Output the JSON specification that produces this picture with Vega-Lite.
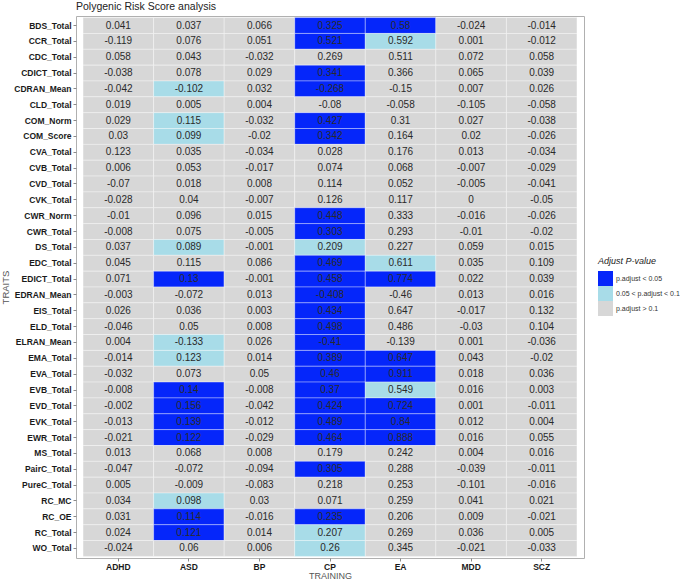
{
  "$schema": "https://vega.github.io/schema/vega-lite/v6.json",
  "width": 508,
  "height": 542,
  "padding": {"left": 0, "top": 1, "right": 0, "bottom": 0},
  "title": {"text": "Polygenic Risk Score analysis", "anchor": "start", "frame": "group", "fontSize": 10.5, "fontWeight": "normal", "font": "Liberation Sans", "color": "#222222", "offset": 4},
  "config": {"view": {"stroke": "#B0B0B0", "fill": "white", "strokeWidth": 1}, "font": "Liberation Sans"},
  "datasets": {
    "prs": [
      {"t":"BDS_Total","p":"ADHD","v":0.041,"s":"3"},{"t":"BDS_Total","p":"ASD","v":0.037,"s":"3"},{"t":"BDS_Total","p":"BP","v":0.066,"s":"3"},{"t":"BDS_Total","p":"CP","v":0.325,"s":"1"},{"t":"BDS_Total","p":"EA","v":0.58,"s":"1"},{"t":"BDS_Total","p":"MDD","v":-0.024,"s":"3"},{"t":"BDS_Total","p":"SCZ","v":-0.014,"s":"3"},
      {"t":"CCR_Total","p":"ADHD","v":-0.119,"s":"3"},{"t":"CCR_Total","p":"ASD","v":0.076,"s":"3"},{"t":"CCR_Total","p":"BP","v":0.051,"s":"3"},{"t":"CCR_Total","p":"CP","v":0.521,"s":"1"},{"t":"CCR_Total","p":"EA","v":0.592,"s":"2"},{"t":"CCR_Total","p":"MDD","v":0.001,"s":"3"},{"t":"CCR_Total","p":"SCZ","v":-0.012,"s":"3"},
      {"t":"CDC_Total","p":"ADHD","v":0.058,"s":"3"},{"t":"CDC_Total","p":"ASD","v":0.043,"s":"3"},{"t":"CDC_Total","p":"BP","v":-0.032,"s":"3"},{"t":"CDC_Total","p":"CP","v":0.269,"s":"3"},{"t":"CDC_Total","p":"EA","v":0.511,"s":"3"},{"t":"CDC_Total","p":"MDD","v":0.072,"s":"3"},{"t":"CDC_Total","p":"SCZ","v":0.058,"s":"3"},
      {"t":"CDICT_Total","p":"ADHD","v":-0.038,"s":"3"},{"t":"CDICT_Total","p":"ASD","v":0.078,"s":"3"},{"t":"CDICT_Total","p":"BP","v":0.029,"s":"3"},{"t":"CDICT_Total","p":"CP","v":0.341,"s":"1"},{"t":"CDICT_Total","p":"EA","v":0.366,"s":"3"},{"t":"CDICT_Total","p":"MDD","v":0.065,"s":"3"},{"t":"CDICT_Total","p":"SCZ","v":0.039,"s":"3"},
      {"t":"CDRAN_Mean","p":"ADHD","v":-0.042,"s":"3"},{"t":"CDRAN_Mean","p":"ASD","v":-0.102,"s":"2"},{"t":"CDRAN_Mean","p":"BP","v":0.032,"s":"3"},{"t":"CDRAN_Mean","p":"CP","v":-0.268,"s":"1"},{"t":"CDRAN_Mean","p":"EA","v":-0.15,"s":"3"},{"t":"CDRAN_Mean","p":"MDD","v":0.007,"s":"3"},{"t":"CDRAN_Mean","p":"SCZ","v":0.026,"s":"3"},
      {"t":"CLD_Total","p":"ADHD","v":0.019,"s":"3"},{"t":"CLD_Total","p":"ASD","v":0.005,"s":"3"},{"t":"CLD_Total","p":"BP","v":0.004,"s":"3"},{"t":"CLD_Total","p":"CP","v":-0.08,"s":"3"},{"t":"CLD_Total","p":"EA","v":-0.058,"s":"3"},{"t":"CLD_Total","p":"MDD","v":-0.105,"s":"3"},{"t":"CLD_Total","p":"SCZ","v":-0.058,"s":"3"},
      {"t":"COM_Norm","p":"ADHD","v":0.029,"s":"3"},{"t":"COM_Norm","p":"ASD","v":0.115,"s":"2"},{"t":"COM_Norm","p":"BP","v":-0.032,"s":"3"},{"t":"COM_Norm","p":"CP","v":0.427,"s":"1"},{"t":"COM_Norm","p":"EA","v":0.31,"s":"3"},{"t":"COM_Norm","p":"MDD","v":0.027,"s":"3"},{"t":"COM_Norm","p":"SCZ","v":-0.038,"s":"3"},
      {"t":"COM_Score","p":"ADHD","v":0.03,"s":"3"},{"t":"COM_Score","p":"ASD","v":0.099,"s":"2"},{"t":"COM_Score","p":"BP","v":-0.02,"s":"3"},{"t":"COM_Score","p":"CP","v":0.342,"s":"1"},{"t":"COM_Score","p":"EA","v":0.164,"s":"3"},{"t":"COM_Score","p":"MDD","v":0.02,"s":"3"},{"t":"COM_Score","p":"SCZ","v":-0.026,"s":"3"},
      {"t":"CVA_Total","p":"ADHD","v":0.123,"s":"3"},{"t":"CVA_Total","p":"ASD","v":0.035,"s":"3"},{"t":"CVA_Total","p":"BP","v":-0.034,"s":"3"},{"t":"CVA_Total","p":"CP","v":0.028,"s":"3"},{"t":"CVA_Total","p":"EA","v":0.176,"s":"3"},{"t":"CVA_Total","p":"MDD","v":0.013,"s":"3"},{"t":"CVA_Total","p":"SCZ","v":-0.034,"s":"3"},
      {"t":"CVB_Total","p":"ADHD","v":0.006,"s":"3"},{"t":"CVB_Total","p":"ASD","v":0.053,"s":"3"},{"t":"CVB_Total","p":"BP","v":-0.017,"s":"3"},{"t":"CVB_Total","p":"CP","v":0.074,"s":"3"},{"t":"CVB_Total","p":"EA","v":0.068,"s":"3"},{"t":"CVB_Total","p":"MDD","v":-0.007,"s":"3"},{"t":"CVB_Total","p":"SCZ","v":-0.029,"s":"3"},
      {"t":"CVD_Total","p":"ADHD","v":-0.07,"s":"3"},{"t":"CVD_Total","p":"ASD","v":0.018,"s":"3"},{"t":"CVD_Total","p":"BP","v":0.008,"s":"3"},{"t":"CVD_Total","p":"CP","v":0.114,"s":"3"},{"t":"CVD_Total","p":"EA","v":0.052,"s":"3"},{"t":"CVD_Total","p":"MDD","v":-0.005,"s":"3"},{"t":"CVD_Total","p":"SCZ","v":-0.041,"s":"3"},
      {"t":"CVK_Total","p":"ADHD","v":-0.028,"s":"3"},{"t":"CVK_Total","p":"ASD","v":0.04,"s":"3"},{"t":"CVK_Total","p":"BP","v":-0.007,"s":"3"},{"t":"CVK_Total","p":"CP","v":0.126,"s":"3"},{"t":"CVK_Total","p":"EA","v":0.117,"s":"3"},{"t":"CVK_Total","p":"MDD","v":0,"s":"3"},{"t":"CVK_Total","p":"SCZ","v":-0.05,"s":"3"},
      {"t":"CWR_Norm","p":"ADHD","v":-0.01,"s":"3"},{"t":"CWR_Norm","p":"ASD","v":0.096,"s":"3"},{"t":"CWR_Norm","p":"BP","v":0.015,"s":"3"},{"t":"CWR_Norm","p":"CP","v":0.448,"s":"1"},{"t":"CWR_Norm","p":"EA","v":0.333,"s":"3"},{"t":"CWR_Norm","p":"MDD","v":-0.016,"s":"3"},{"t":"CWR_Norm","p":"SCZ","v":-0.026,"s":"3"},
      {"t":"CWR_Total","p":"ADHD","v":-0.008,"s":"3"},{"t":"CWR_Total","p":"ASD","v":0.075,"s":"3"},{"t":"CWR_Total","p":"BP","v":-0.005,"s":"3"},{"t":"CWR_Total","p":"CP","v":0.303,"s":"1"},{"t":"CWR_Total","p":"EA","v":0.293,"s":"3"},{"t":"CWR_Total","p":"MDD","v":-0.01,"s":"3"},{"t":"CWR_Total","p":"SCZ","v":-0.02,"s":"3"},
      {"t":"DS_Total","p":"ADHD","v":0.037,"s":"3"},{"t":"DS_Total","p":"ASD","v":0.089,"s":"2"},{"t":"DS_Total","p":"BP","v":-0.001,"s":"3"},{"t":"DS_Total","p":"CP","v":0.209,"s":"2"},{"t":"DS_Total","p":"EA","v":0.227,"s":"3"},{"t":"DS_Total","p":"MDD","v":0.059,"s":"3"},{"t":"DS_Total","p":"SCZ","v":0.015,"s":"3"},
      {"t":"EDC_Total","p":"ADHD","v":0.045,"s":"3"},{"t":"EDC_Total","p":"ASD","v":0.115,"s":"3"},{"t":"EDC_Total","p":"BP","v":0.086,"s":"3"},{"t":"EDC_Total","p":"CP","v":0.469,"s":"1"},{"t":"EDC_Total","p":"EA","v":0.611,"s":"2"},{"t":"EDC_Total","p":"MDD","v":0.035,"s":"3"},{"t":"EDC_Total","p":"SCZ","v":0.109,"s":"3"},
      {"t":"EDICT_Total","p":"ADHD","v":0.071,"s":"3"},{"t":"EDICT_Total","p":"ASD","v":0.13,"s":"1"},{"t":"EDICT_Total","p":"BP","v":-0.001,"s":"3"},{"t":"EDICT_Total","p":"CP","v":0.458,"s":"1"},{"t":"EDICT_Total","p":"EA","v":0.774,"s":"1"},{"t":"EDICT_Total","p":"MDD","v":0.022,"s":"3"},{"t":"EDICT_Total","p":"SCZ","v":0.039,"s":"3"},
      {"t":"EDRAN_Mean","p":"ADHD","v":-0.003,"s":"3"},{"t":"EDRAN_Mean","p":"ASD","v":-0.072,"s":"3"},{"t":"EDRAN_Mean","p":"BP","v":0.013,"s":"3"},{"t":"EDRAN_Mean","p":"CP","v":-0.408,"s":"1"},{"t":"EDRAN_Mean","p":"EA","v":-0.46,"s":"3"},{"t":"EDRAN_Mean","p":"MDD","v":0.013,"s":"3"},{"t":"EDRAN_Mean","p":"SCZ","v":0.016,"s":"3"},
      {"t":"EIS_Total","p":"ADHD","v":0.026,"s":"3"},{"t":"EIS_Total","p":"ASD","v":0.036,"s":"3"},{"t":"EIS_Total","p":"BP","v":0.003,"s":"3"},{"t":"EIS_Total","p":"CP","v":0.434,"s":"1"},{"t":"EIS_Total","p":"EA","v":0.647,"s":"3"},{"t":"EIS_Total","p":"MDD","v":-0.017,"s":"3"},{"t":"EIS_Total","p":"SCZ","v":0.132,"s":"3"},
      {"t":"ELD_Total","p":"ADHD","v":-0.046,"s":"3"},{"t":"ELD_Total","p":"ASD","v":0.05,"s":"3"},{"t":"ELD_Total","p":"BP","v":0.008,"s":"3"},{"t":"ELD_Total","p":"CP","v":0.498,"s":"1"},{"t":"ELD_Total","p":"EA","v":0.486,"s":"3"},{"t":"ELD_Total","p":"MDD","v":-0.03,"s":"3"},{"t":"ELD_Total","p":"SCZ","v":0.104,"s":"3"},
      {"t":"ELRAN_Mean","p":"ADHD","v":0.004,"s":"3"},{"t":"ELRAN_Mean","p":"ASD","v":-0.133,"s":"2"},{"t":"ELRAN_Mean","p":"BP","v":0.026,"s":"3"},{"t":"ELRAN_Mean","p":"CP","v":-0.41,"s":"1"},{"t":"ELRAN_Mean","p":"EA","v":-0.139,"s":"3"},{"t":"ELRAN_Mean","p":"MDD","v":0.001,"s":"3"},{"t":"ELRAN_Mean","p":"SCZ","v":-0.036,"s":"3"},
      {"t":"EMA_Total","p":"ADHD","v":-0.014,"s":"3"},{"t":"EMA_Total","p":"ASD","v":0.123,"s":"2"},{"t":"EMA_Total","p":"BP","v":0.014,"s":"3"},{"t":"EMA_Total","p":"CP","v":0.389,"s":"1"},{"t":"EMA_Total","p":"EA","v":0.647,"s":"1"},{"t":"EMA_Total","p":"MDD","v":0.043,"s":"3"},{"t":"EMA_Total","p":"SCZ","v":-0.02,"s":"3"},
      {"t":"EVA_Total","p":"ADHD","v":-0.032,"s":"3"},{"t":"EVA_Total","p":"ASD","v":0.073,"s":"3"},{"t":"EVA_Total","p":"BP","v":0.05,"s":"3"},{"t":"EVA_Total","p":"CP","v":0.46,"s":"1"},{"t":"EVA_Total","p":"EA","v":0.911,"s":"1"},{"t":"EVA_Total","p":"MDD","v":0.018,"s":"3"},{"t":"EVA_Total","p":"SCZ","v":0.036,"s":"3"},
      {"t":"EVB_Total","p":"ADHD","v":-0.008,"s":"3"},{"t":"EVB_Total","p":"ASD","v":0.14,"s":"1"},{"t":"EVB_Total","p":"BP","v":-0.008,"s":"3"},{"t":"EVB_Total","p":"CP","v":0.37,"s":"1"},{"t":"EVB_Total","p":"EA","v":0.549,"s":"2"},{"t":"EVB_Total","p":"MDD","v":0.016,"s":"3"},{"t":"EVB_Total","p":"SCZ","v":0.003,"s":"3"},
      {"t":"EVD_Total","p":"ADHD","v":-0.002,"s":"3"},{"t":"EVD_Total","p":"ASD","v":0.156,"s":"1"},{"t":"EVD_Total","p":"BP","v":-0.042,"s":"3"},{"t":"EVD_Total","p":"CP","v":0.424,"s":"1"},{"t":"EVD_Total","p":"EA","v":0.724,"s":"1"},{"t":"EVD_Total","p":"MDD","v":0.001,"s":"3"},{"t":"EVD_Total","p":"SCZ","v":-0.011,"s":"3"},
      {"t":"EVK_Total","p":"ADHD","v":-0.013,"s":"3"},{"t":"EVK_Total","p":"ASD","v":0.139,"s":"1"},{"t":"EVK_Total","p":"BP","v":-0.012,"s":"3"},{"t":"EVK_Total","p":"CP","v":0.489,"s":"1"},{"t":"EVK_Total","p":"EA","v":0.84,"s":"1"},{"t":"EVK_Total","p":"MDD","v":0.012,"s":"3"},{"t":"EVK_Total","p":"SCZ","v":0.004,"s":"3"},
      {"t":"EWR_Total","p":"ADHD","v":-0.021,"s":"3"},{"t":"EWR_Total","p":"ASD","v":0.122,"s":"1"},{"t":"EWR_Total","p":"BP","v":-0.029,"s":"3"},{"t":"EWR_Total","p":"CP","v":0.464,"s":"1"},{"t":"EWR_Total","p":"EA","v":0.888,"s":"1"},{"t":"EWR_Total","p":"MDD","v":0.016,"s":"3"},{"t":"EWR_Total","p":"SCZ","v":0.055,"s":"3"},
      {"t":"MS_Total","p":"ADHD","v":0.013,"s":"3"},{"t":"MS_Total","p":"ASD","v":0.068,"s":"3"},{"t":"MS_Total","p":"BP","v":0.008,"s":"3"},{"t":"MS_Total","p":"CP","v":0.179,"s":"3"},{"t":"MS_Total","p":"EA","v":0.242,"s":"3"},{"t":"MS_Total","p":"MDD","v":0.004,"s":"3"},{"t":"MS_Total","p":"SCZ","v":0.016,"s":"3"},
      {"t":"PairC_Total","p":"ADHD","v":-0.047,"s":"3"},{"t":"PairC_Total","p":"ASD","v":-0.072,"s":"3"},{"t":"PairC_Total","p":"BP","v":-0.094,"s":"3"},{"t":"PairC_Total","p":"CP","v":0.305,"s":"1"},{"t":"PairC_Total","p":"EA","v":0.288,"s":"3"},{"t":"PairC_Total","p":"MDD","v":-0.039,"s":"3"},{"t":"PairC_Total","p":"SCZ","v":-0.011,"s":"3"},
      {"t":"PureC_Total","p":"ADHD","v":0.005,"s":"3"},{"t":"PureC_Total","p":"ASD","v":-0.009,"s":"3"},{"t":"PureC_Total","p":"BP","v":-0.083,"s":"3"},{"t":"PureC_Total","p":"CP","v":0.218,"s":"3"},{"t":"PureC_Total","p":"EA","v":0.253,"s":"3"},{"t":"PureC_Total","p":"MDD","v":-0.101,"s":"3"},{"t":"PureC_Total","p":"SCZ","v":-0.016,"s":"3"},
      {"t":"RC_MC","p":"ADHD","v":0.034,"s":"3"},{"t":"RC_MC","p":"ASD","v":0.098,"s":"2"},{"t":"RC_MC","p":"BP","v":0.03,"s":"3"},{"t":"RC_MC","p":"CP","v":0.071,"s":"3"},{"t":"RC_MC","p":"EA","v":0.259,"s":"3"},{"t":"RC_MC","p":"MDD","v":0.041,"s":"3"},{"t":"RC_MC","p":"SCZ","v":0.021,"s":"3"},
      {"t":"RC_OE","p":"ADHD","v":0.031,"s":"3"},{"t":"RC_OE","p":"ASD","v":0.114,"s":"1"},{"t":"RC_OE","p":"BP","v":-0.016,"s":"3"},{"t":"RC_OE","p":"CP","v":0.235,"s":"1"},{"t":"RC_OE","p":"EA","v":0.206,"s":"3"},{"t":"RC_OE","p":"MDD","v":0.009,"s":"3"},{"t":"RC_OE","p":"SCZ","v":-0.021,"s":"3"},
      {"t":"RC_Total","p":"ADHD","v":0.024,"s":"3"},{"t":"RC_Total","p":"ASD","v":0.121,"s":"1"},{"t":"RC_Total","p":"BP","v":0.014,"s":"3"},{"t":"RC_Total","p":"CP","v":0.207,"s":"2"},{"t":"RC_Total","p":"EA","v":0.269,"s":"3"},{"t":"RC_Total","p":"MDD","v":0.036,"s":"3"},{"t":"RC_Total","p":"SCZ","v":0.005,"s":"3"},
      {"t":"WO_Total","p":"ADHD","v":-0.024,"s":"3"},{"t":"WO_Total","p":"ASD","v":0.06,"s":"3"},{"t":"WO_Total","p":"BP","v":0.006,"s":"3"},{"t":"WO_Total","p":"CP","v":0.26,"s":"2"},{"t":"WO_Total","p":"EA","v":0.345,"s":"3"},{"t":"WO_Total","p":"MDD","v":-0.021,"s":"3"},{"t":"WO_Total","p":"SCZ","v":-0.033,"s":"3"}
    ]
  },
  "data": {"name": "prs"},
  "encoding": {
    "x": {
      "field": "p", "type": "nominal",
      "sort": ["ADHD","ASD","BP","CP","EA","MDD","SCZ"],
      "scale": {"paddingInner": 0, "paddingOuter": 0.1},
      "axis": {"title": "TRAINING", "labelAngle": 0, "labelFontWeight": "bold", "labelFontSize": 8.5, "labelColor": "#1a1a1a", "titleFontSize": 9, "titleFontWeight": "normal", "titleColor": "#555555", "tickColor": "#8a8a8a", "tickSize": 3, "domain": false, "grid": false, "labelPadding": 1, "titlePadding": 1}
    },
    "y": {
      "field": "t", "type": "nominal",
      "sort": ["BDS_Total","CCR_Total","CDC_Total","CDICT_Total","CDRAN_Mean","CLD_Total","COM_Norm","COM_Score","CVA_Total","CVB_Total","CVD_Total","CVK_Total","CWR_Norm","CWR_Total","DS_Total","EDC_Total","EDICT_Total","EDRAN_Mean","EIS_Total","ELD_Total","ELRAN_Mean","EMA_Total","EVA_Total","EVB_Total","EVD_Total","EVK_Total","EWR_Total","MS_Total","PairC_Total","PureC_Total","RC_MC","RC_OE","RC_Total","WO_Total"],
      "scale": {"paddingInner": 0, "paddingOuter": 0.1},
      "axis": {"title": "TRAITS", "labelFontWeight": "bold", "labelFontSize": 8.5, "labelColor": "#1a1a1a", "titleFontSize": 9.5, "titleFontWeight": "normal", "titleColor": "#555555", "tickColor": "#8a8a8a", "tickSize": 3, "domain": false, "grid": false, "labelPadding": 2, "titlePadding": 3}
    }
  },
  "layer": [
    {
      "mark": {"type": "rect", "stroke": "white", "strokeWidth": 0.5, "strokeOpacity": 0.7},
      "encoding": {
        "color": {
          "field": "s", "type": "nominal",
          "scale": {"domain": ["1","2","3"], "range": ["#0526FA","#A8DCE8","#D7D7D7"]},
          "legend": {
            "title": "Adjust P-value", "titleFontStyle": "italic", "titleFontWeight": "normal", "titleFontSize": 9, "titleColor": "#222222", "titlePadding": 5,
            "labelFontSize": 7, "labelColor": "#333333", "labelOffset": 3,
            "symbolType": "square", "symbolSize": 225, "symbolStrokeWidth": 0, "symbolOpacity": 1, "rowPadding": 0,
            "orient": "none", "legendX": 522, "legendY": 241,
            "labelExpr": "datum.value == '1' ? 'p.adjust < 0.05' : datum.value == '2' ? '0.05 < p.adjust < 0.1' : 'p.adjust > 0.1'"
          }
        }
      }
    },
    {
      "mark": {"type": "text", "fontSize": 10, "color": "#2a2a2a"},
      "encoding": {"text": {"field": "v", "type": "nominal"}}
    }
  ]
}
